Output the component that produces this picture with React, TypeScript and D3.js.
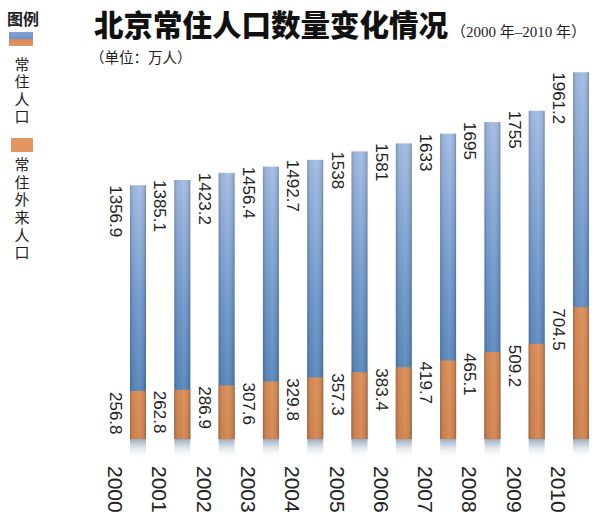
import React from "react";
import * as d3 from "d3";

const years = ["2000", "2001", "2002", "2003", "2004", "2005", "2006", "2007", "2008", "2009", "2010"];
const residentPop = [1356.9, 1385.1, 1423.2, 1456.4, 1492.7, 1538, 1581, 1633, 1695, 1755, 1961.2];
const migrantPop = [256.8, 262.8, 286.9, 307.6, 329.8, 357.3, 383.4, 419.7, 465.1, 509.2, 704.5];
const legendItems = ["常住人口", "常住外来人口"];

const W = 600;
const H = 521;
const BASE = 439;
const BAR_W = 16;

export default function App() {
  const x = d3.scalePoint<string>().domain(years).range([138, 581]);
  const y = d3.scaleLinear().domain([0, 2000]).range([BASE, BASE - 374]);
  const numFont = "'Liberation Sans', Arial, sans-serif";
  const cjk = "'Noto Sans CJK SC', sans-serif";

  return (
    <svg width={W} height={H} style={{ position: "absolute", left: 0, top: 0, background: "#fff" }}>
      <defs>
        <linearGradient id="blueV" x1="0" y1="0" x2="0" y2="1">
          <stop offset="0" stopColor="#a3bce4" />
          <stop offset="0.5" stopColor="#6e98cb" />
          <stop offset="1" stopColor="#4b7db3" />
        </linearGradient>
        <linearGradient id="orangeV" x1="0" y1="0" x2="0" y2="1">
          <stop offset="0" stopColor="#da8e57" />
          <stop offset="1" stopColor="#d38550" />
        </linearGradient>
        <linearGradient id="edgeH" x1="0" y1="0" x2="1" y2="0">
          <stop offset="0" stopColor="#000" stopOpacity="0.22" />
          <stop offset="0.18" stopColor="#000" stopOpacity="0.04" />
          <stop offset="0.6" stopColor="#fff" stopOpacity="0.06" />
          <stop offset="0.85" stopColor="#000" stopOpacity="0.05" />
          <stop offset="1" stopColor="#000" stopOpacity="0.25" />
        </linearGradient>
        <linearGradient id="refl" x1="0" y1="0" x2="0" y2="1">
          <stop offset="0" stopColor="#7f93ad" stopOpacity="0.8" />
          <stop offset="1" stopColor="#ffffff" stopOpacity="0" />
        </linearGradient>
        <linearGradient id="legendSw" x1="0" y1="0" x2="0" y2="1">
          <stop offset="0" stopColor="#7fa2d6" />
          <stop offset="0.45" stopColor="#6d93c8" />
          <stop offset="0.55" stopColor="#d98c57" />
          <stop offset="1" stopColor="#e09765" />
        </linearGradient>
      </defs>

      {/* Legend */}
      <text x={7} y={25} fontFamily={cjk} fontWeight={700} fontSize={16} fill="#222">图例</text>
      <rect x={9} y={32} width={24} height={14} fill="url(#legendSw)" />
      <text x={22} y={57} style={{ writingMode: "vertical-rl" }} letterSpacing={2.3} fontFamily={cjk} fontSize={15} fill="#222">
        {legendItems[0]}
      </text>
      <rect x={11} y={138} width={22} height={14} fill="#e3965f" />
      <text x={22} y={157} style={{ writingMode: "vertical-rl" }} letterSpacing={2.6} fontFamily={cjk} fontSize={15} fill="#222">
        {legendItems[1]}
      </text>

      {/* Title */}
      <text x={94} y={36} fontFamily={cjk} fontWeight={900} fontSize={29.5} fill="#111">北京常住人口数量变化情况</text>
      <text x={451} y={37} fontFamily={"'Liberation Serif', 'Noto Sans CJK SC', serif"} fontSize={15} fill="#222">（2000 年–2010 年）</text>
      <text x={90} y={63} fontFamily={cjk} fontSize={14.5} fill="#222">（单位：万人）</text>

      {/* Bars */}
      {years.map((yr, i) => {
        const cx = x(yr) as number;
        const left = cx - BAR_W / 2;
        const tTop = y(residentPop[i]);
        const mTop = y(migrantPop[i]);
        return (
          <g key={yr}>
            <rect x={left} y={tTop} width={BAR_W} height={BASE - tTop} fill="url(#blueV)" />
            <rect x={left} y={mTop} width={BAR_W} height={BASE - mTop} fill="url(#orangeV)" />
            <rect x={left} y={tTop} width={BAR_W} height={BASE - tTop} fill="url(#edgeH)" />
            <rect x={left} y={BASE} width={BAR_W} height={20} fill="url(#refl)" />
            <text transform={`translate(${cx - 28},${tTop}) rotate(90)`} fontFamily={numFont} fontSize={17} fill="#222">
              {String(residentPop[i])}
            </text>
            <text transform={`translate(${cx - 28},${mTop + 1}) rotate(90)`} fontFamily={numFont} fontSize={17} fill="#222">
              {String(migrantPop[i])}
            </text>
            <text transform={`translate(${cx - 30},${466}) rotate(90)`} fontFamily={numFont} fontSize={21} fill="#222">
              {yr}
            </text>
          </g>
        );
      })}
    </svg>
  );
}
